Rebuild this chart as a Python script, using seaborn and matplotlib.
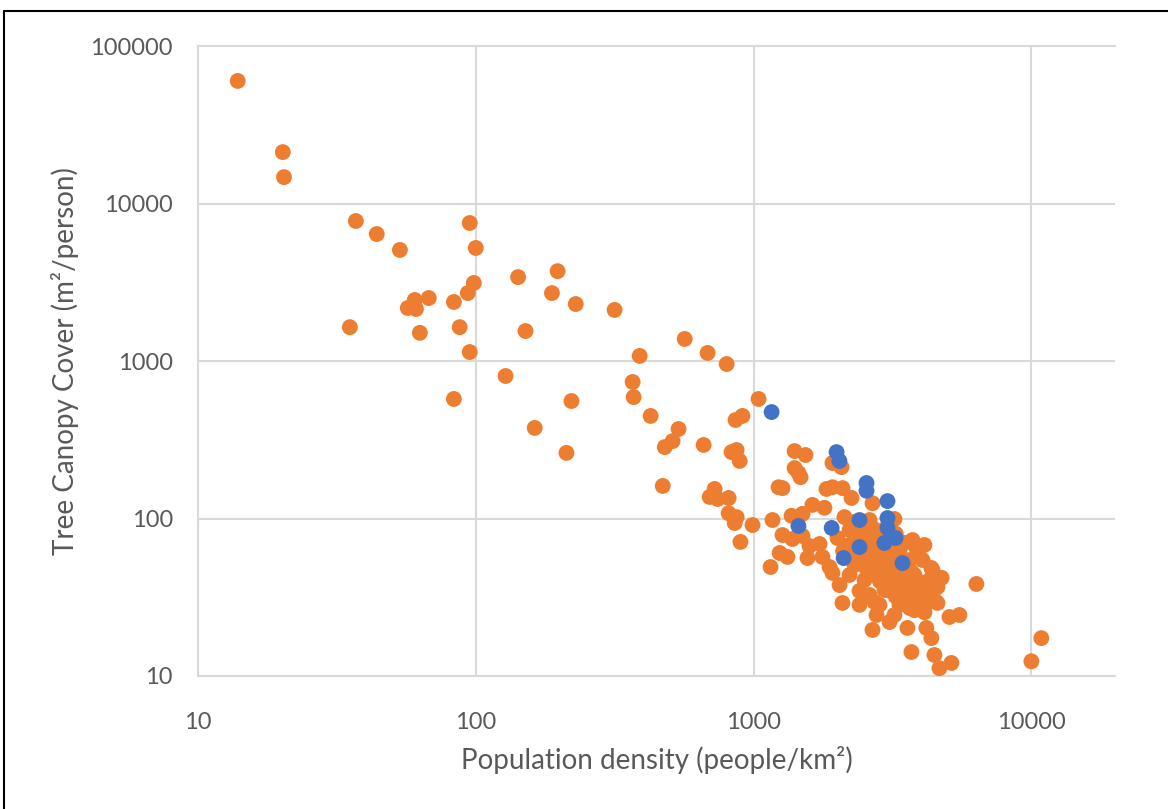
import matplotlib
matplotlib.use("Agg")
import matplotlib.pyplot as plt
from matplotlib.lines import Line2D
import seaborn as sns
import pandas as pd

# ---- data ----
orange_density = [
    13.9, 20.2, 20.4, 37.0, 44.0, 53.3, 95.1, 100, 98.4, 93.6,
    142, 197, 188, 229, 316, 151, 35.2, 56.9, 60.3, 60.9,
    67.7, 62.9, 83.4, 87.5, 95.1, 83.4, 128, 163, 221, 212,
    389, 565, 683, 800, 367, 370, 426, 537, 511, 479,
    661, 471, 1042, 912, 861, 833, 869, 891, 724, 695,
    743, 813, 813, 869, 855, 991, 1170, 1230, 897, 1151,
    1241, 1405, 1538, 1405, 1476, 1271, 1830, 1923, 2089, 2252,
    2680, 1799, 1629, 1370, 1500, 2124, 2614, 3214, 2680, 2004,
    3733, 3857, 4055, 4366, 1271, 1380, 1500, 1324, 1589, 1728,
    1563, 1770, 1877, 1923, 2406, 2089, 2723, 4592, 4592, 5508,
    5070, 3085, 3580, 2680, 4188, 4366, 3700, 4477, 5152, 4668,
    6339, 10860, 10000, 4406, 2073, 1923, 1450,
    2215, 2508, 2839, 3351, 2215, 2614, 3085, 3640, 2308, 2725,
    3214, 3793, 4297, 2508, 2958, 3493, 3955, 2839, 3351, 3793,
    4478, 3214, 2215, 2039, 2614, 4122, 3493, 3085, 2406, 3493,
    2839, 2124, 3700, 4122, 2771, 4753, 2406,
    2300, 2500, 2700, 2900, 3100, 3300, 3500, 3700, 3900, 4100,
    4300, 2600, 2800, 3000, 3200, 3400, 3600, 3800, 4000, 4200,
    2450, 2700, 2950, 3150, 3350, 3550, 3750, 3950, 2250, 2550,
    2850, 3050, 3250, 3450, 3650, 2950, 3250, 3500, 2100, 2400,
]
orange_canopy = [
    60000, 21200, 14700, 7740, 6400, 5070, 7520, 5220, 3130, 2700,
    3410, 3720, 2700, 2300, 2110, 1550, 1640, 2170, 2440, 2140,
    2510, 1510, 2370, 1640, 1140, 574, 803, 376, 557, 261,
    1077, 1380, 1125, 957, 736, 590, 448, 370, 310, 284,
    293, 161, 574, 448, 422, 264, 272, 232, 154, 137,
    133, 135, 108, 102, 93.6, 90.9, 97.8, 158, 71.0, 49.2,
    60.4, 268, 253, 209, 183, 156, 154, 158, 156, 135,
    125, 117, 122, 104, 107, 102, 97.8, 99.3, 87.1, 75.2,
    73.0, 65.0, 54.5, 48.5, 78.5, 74.1, 77.4, 57.0, 66.9, 68.9,
    56.1, 57.0, 49.2, 45.1, 34.7, 29.1, 29.5, 36.7, 29.1, 24.4,
    23.7, 22.0, 20.2, 19.6, 20.2, 17.4, 14.2, 13.6, 12.1, 11.2,
    38.4, 17.4, 12.4, 47.1, 212, 225, 195,
    84.5, 78.6, 63.1, 63.1, 67.9, 58.6, 50.7, 54.5, 50.7, 47.1,
    42.0, 43.8, 40.7, 40.7, 35.2, 35.2, 32.7, 28.3, 28.3, 26.2,
    30.4, 24.4, 43.8, 37.8, 32.7, 25.4, 43.8, 73.0, 73.0, 30.4,
    42.0, 61.3, 37.8, 67.9, 24.4, 42.0, 28.3,
    95, 90, 80, 75, 65, 58, 50, 46, 40, 36,
    33, 68, 60, 55, 48, 44, 39, 35, 31, 29,
    58, 52, 45, 40, 37, 33, 30, 27, 55, 48,
    40, 35, 32, 30, 27, 85, 80, 70, 62, 85,
]
blue_density = [1161, 1989, 2037, 2550, 2550, 3034, 3034, 3034, 2406, 1910,
                1450, 3244, 2958, 2406, 2109, 3436]
blue_canopy = [474, 264, 232, 168, 150, 129, 100.7, 87.1, 97.8, 87.1,
               89.6, 75.2, 69.9, 65.9, 56.1, 52.1]

x_ticks = [10, 100, 1000, 10000]
y_ticks = [10, 100, 1000, 10000, 100000]
x_label = "Population density (people/km²)"
y_label = "Tree Canopy Cover (m²/person)"

ORANGE = "#ED7D31"
BLUE = "#4472C4"
TEXT = "#595959"
GRID = "#D9D9D9"

df = pd.DataFrame({
    "density": orange_density + blue_density,
    "canopy": orange_canopy + blue_canopy,
    "group": ["orange"] * len(orange_density) + ["blue"] * len(blue_density),
})

sns.set_theme(style="white")
plt.rcParams["font.family"] = ["Lato", "DejaVu Sans"]

fig = plt.figure(figsize=(11.68, 8.09), dpi=100)
ax = fig.add_axes([198 / 1168, 1 - 676 / 809, (1115 - 198) / 1168, (676 - 46) / 809])

sns.scatterplot(data=df, x="density", y="canopy", hue="group",
                palette={"orange": ORANGE, "blue": BLUE}, s=130,
                edgecolor="none", linewidth=0, alpha=1, legend=False, ax=ax,
                zorder=3)

ax.set_xscale("log")
ax.set_yscale("log")
ax.set_xlim(10, 20000)
ax.set_ylim(10, 100000)
ax.set_xticks(x_ticks)
ax.set_xticklabels([str(v) for v in x_ticks])
ax.set_yticks(y_ticks)
ax.set_yticklabels([str(v) for v in y_ticks])
ax.minorticks_off()
ax.tick_params(axis="both", length=0, labelsize=17, labelcolor=TEXT)
ax.tick_params(axis="x", pad=26)
ax.tick_params(axis="y", pad=18)
ax.grid(True, color=GRID, linewidth=1.5, zorder=0)
ax.set_axisbelow(True)
for side in ["left", "top", "bottom"]:
    ax.spines[side].set_color(GRID)
    ax.spines[side].set_linewidth(1.5)
ax.spines["right"].set_visible(False)

ax.set_xlabel(x_label, fontsize=20, color=TEXT, labelpad=9)
ax.set_ylabel(y_label, fontsize=20, color=TEXT, labelpad=8)

# outer chart frame
fig.add_artist(Line2D([4 / 1168, 4 / 1168], [0, 1 - 11 / 809], transform=fig.transFigure,
                      color="black", linewidth=1.5))
fig.add_artist(Line2D([4 / 1168, 1], [1 - 11 / 809, 1 - 11 / 809], transform=fig.transFigure,
                      color="black", linewidth=1.5))

fig.savefig("out.png", dpi=100, facecolor="white")
